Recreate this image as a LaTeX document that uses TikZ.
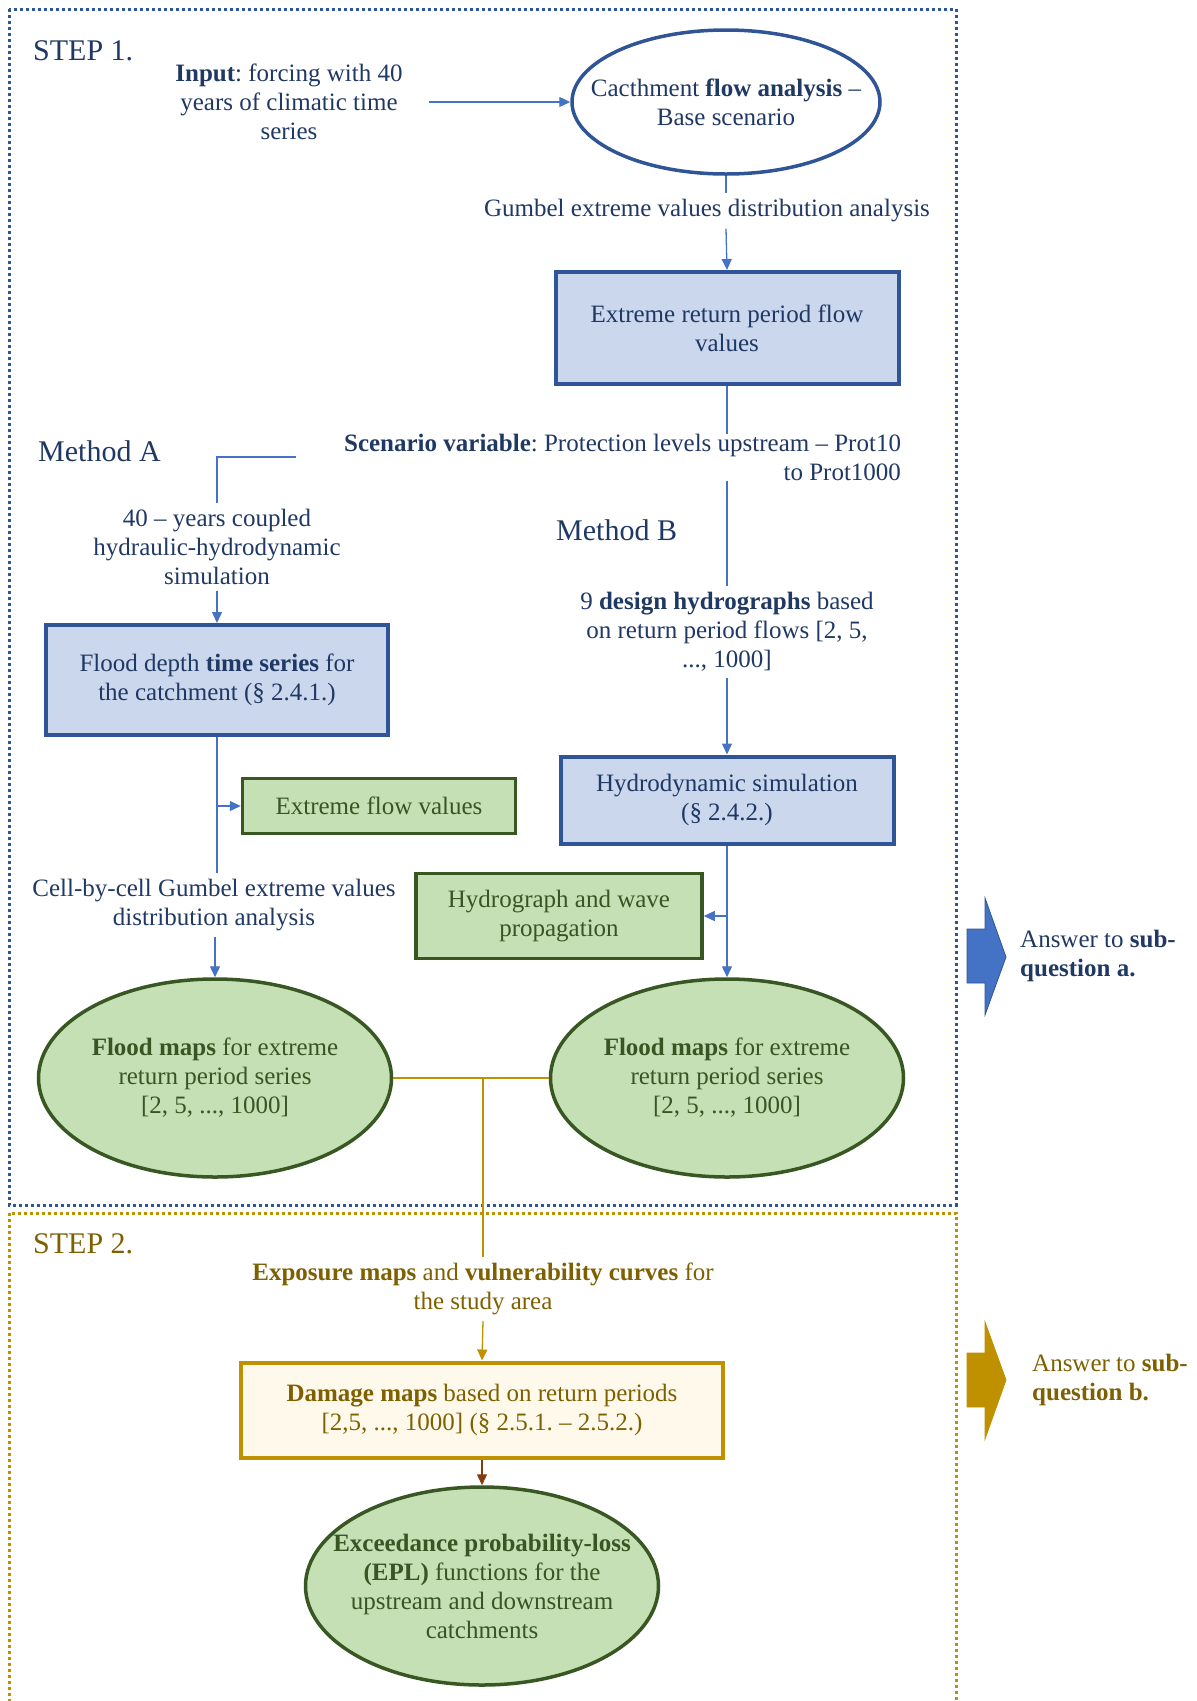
\documentclass[tikz,border=0pt]{standalone}
\usepackage{fontspec}
\setmainfont{Liberation Serif}
\usetikzlibrary{shapes.geometric,arrows.meta}
\definecolor{stepblue}{HTML}{2F5597}
\definecolor{textblue}{HTML}{1F3864}
\definecolor{lineblue}{HTML}{4472C4}
\definecolor{fillblue}{HTML}{CAD7ED}
\definecolor{fillgreen}{HTML}{C5E0B4}
\definecolor{edgegreen}{HTML}{385723}
\definecolor{textgreen}{HTML}{375623}
\definecolor{gold}{HTML}{BF9000}
\definecolor{textgold}{HTML}{7F6000}
\definecolor{fillcream}{HTML}{FFF9EC}
\definecolor{rust}{HTML}{843C0C}
\frenchspacing

\begin{document}
\begin{tikzpicture}[x=1pt, y=-1pt,
    every node/.style={font=\fontsize{25}{29}\selectfont, align=center, inner sep=6pt},
    lbl/.style={text=textblue},
    title/.style={font=\fontsize{30}{34}\selectfont, anchor=west, inner sep=0pt},
    bluebox/.style={draw=stepblue, line width=4pt, fill=fillblue, text=textblue},
    greenbox/.style={draw=edgegreen, line width=3.5pt, fill=fillgreen, text=textgreen},
    greenoval/.style={ellipse, draw=edgegreen, line width=3.5pt, fill=fillgreen, text=textgreen,
        inner xsep=-40pt, inner ysep=0pt, minimum width=353pt, minimum height=198pt},
    link/.style={draw=lineblue, line width=1.3pt},
    arr/.style={link, -{Triangle[length=11pt,width=10pt]}},
    glink/.style={draw=gold, line width=1.3pt},
    garr/.style={glink, -{Triangle[length=11pt,width=10pt]}},
    rarr/.style={draw=rust, line width=1.3pt, -{Triangle[length=11pt,width=10pt]}}]
    \useasboundingbox (0,0) rectangle (1197,1701);

    \draw[stepblue, line width=3pt, dash pattern=on 3pt off 3pt] (9,9) rectangle (956,1205);
    \draw[gold, line width=3pt, dash pattern=on 3pt off 3pt] (9,1720) -- (9,1213) -- (956,1213) -- (956,1720);

    \node[title, text=textblue] (step1) at (33,51) {STEP 1.};
    \node[title, text=textblue] (methA) at (38,451) {Method A};
    \node[title, text=textblue] (methB) at (556,530) {Method B};
    \node[title, text=textgold] (step2) at (33,1244) {STEP 2.};

    \node[lbl, inner xsep=26pt] (input) at (289,102) {\textbf{Input}: forcing with 40\\years of climatic time\\series};
    \node[ellipse, draw=stepblue, line width=3.5pt, fill=white, text=textblue,
        inner xsep=-40pt, inner ysep=0pt, minimum width=308pt, minimum height=144pt] (catch) at (726,102)
        {Cacthment \textbf{flow analysis} --\\Base scenario};
    \node[lbl] (gumbel) at (707,211) {Gumbel extreme values distribution analysis};
    \node[bluebox, minimum width=343pt, minimum height=112pt] (flows) at (727,328)
        {Extreme return period flow\\values};
    \node[lbl, text width=605pt, align=flush right, inner sep=0pt] (scen) at (598.5,457)
        {\textbf{Scenario variable}: Protection levels upstream -- Prot10\\to Prot1000};

    \node[lbl] (coupled) at (217,547) {40 -- years coupled\\hydraulic-hydrodynamic\\simulation};
    \node[bluebox, minimum width=342pt, minimum height=110pt] (depth) at (217,680)
        {Flood depth \textbf{time series} for\\the catchment (§ 2.4.1.)};
    \node[greenbox, minimum width=273pt, minimum height=55pt] (flowA) at (379,806) {Extreme flow values};
    \node[lbl] (cell) at (214,905) {Cell-by-cell Gumbel extreme values\\distribution analysis};
    \node[greenoval] (floodA) at (215,1078) {\textbf{Flood maps} for extreme\\return period series\\{[2, 5, ..., 1000]}};

    \node[lbl] (design) at (727,632) {9 \textbf{design hydrographs} based\\on return period flows [2, 5,\\..., 1000]};
    \node[bluebox, minimum width=333pt, minimum height=87pt] (hydro) at (727,800)
        {Hydrodynamic simulation\\(§ 2.4.2.)};
    \node[greenbox, minimum width=286pt, minimum height=85pt] (wave) at (559,916)
        {Hydrograph and wave\\propagation};
    \node[greenoval] (floodB) at (727,1078) {\textbf{Flood maps} for extreme\\return period series\\{[2, 5, ..., 1000]}};

    \node[text=textgold] (expo) at (483,1289)
        {\textbf{Exposure maps} and \textbf{vulnerability curves} for\\the study area};
    \node[draw=gold, line width=4pt, fill=fillcream, text=textgold,
        minimum width=482pt, minimum height=95pt] (damage) at (482,1410)
        {\textbf{Damage maps} based on return periods\\{[2,5, ..., 1000]} (§ 2.5.1. -- 2.5.2.)};
    \node[greenoval, inner xsep=-60pt] (epl) at (482,1586)
        {\textbf{Exceedance probability-loss}\\\textbf{(EPL)} functions for the\\upstream and downstream\\catchments};

    \draw[fill=lineblue, draw=stepblue, line width=0.8pt]
        (967,929) -- (985,929) -- (985,898) -- (1006,957) -- (985,1015) -- (985,983) -- (967,983) -- cycle;
    \node[lbl, anchor=west, align=left, inner sep=0pt] (ansA) at (1020,956) {Answer to \textbf{sub-}\\\textbf{question a.}};
    \draw[fill=gold, draw=gold, line width=0.8pt]
        (967,1353) -- (985,1353) -- (985,1322) -- (1006,1380) -- (985,1439) -- (985,1407) -- (967,1407) -- cycle;
    \node[text=textgold, anchor=west, align=left, inner sep=0pt] (ansB) at (1032,1380) {Answer to \textbf{sub-}\\\textbf{question b.}};

    \draw[arr] (input.east) -- (catch.west);
    \draw[link] (catch.south) -- (catch.south |- gumbel.north);
    \draw[arr] (catch.south |- gumbel.south) -- (flows.north);
    \draw[link] (flows.south) -- (flows.south |- scen.north);
    \draw[link] (scen.west) -| (coupled.north);
    \draw[arr] (coupled.south) -- (depth.north);
    \draw[link] (depth.south) -- (depth.south |- cell.north);
    \draw[arr] (depth.south |- flowA.west) -- (flowA.west);
    \draw[arr] (floodA.north |- cell.south) -- (floodA.north);
    \draw[link] (scen.south -| design.north) -- (design.north);
    \draw[arr] (design.south) -- (hydro.north);
    \draw[arr] (hydro.south) -- (floodB.north);
    \draw[arr] (hydro.south |- wave.east) -- (wave.east);
    \draw[glink] (floodA.east) -- (floodB.west);
    \draw[glink] (floodA.east -| expo.north) -- (expo.north);
    \draw[garr] (expo.south) -- (damage.north);
    \draw[rarr] (damage.south) -- (epl.north);
\end{tikzpicture}
\end{document}
